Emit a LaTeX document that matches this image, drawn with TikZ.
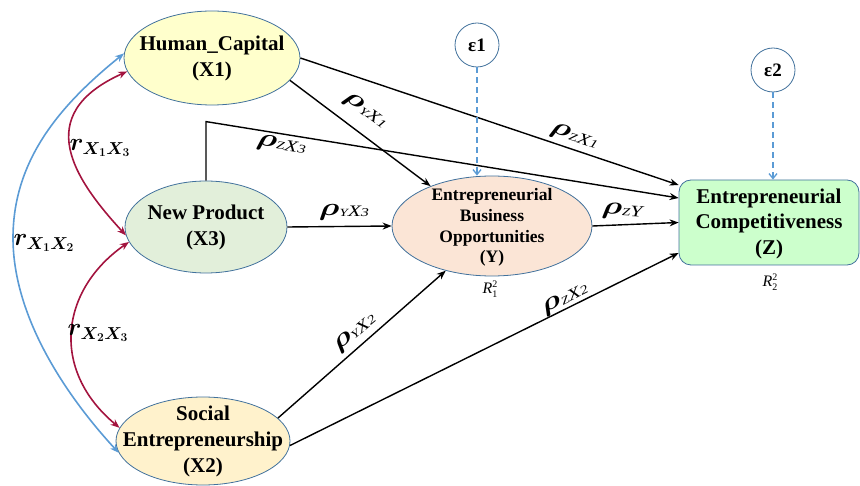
\documentclass[tikz,border=0pt]{standalone}
\usepackage{amsmath,amssymb}
\usepackage{graphicx}
\usepackage{fontspec}
\setmainfont{Liberation Serif}
\usetikzlibrary{shapes.geometric,arrows.meta}

\definecolor{nodeline}{HTML}{41719C}
\definecolor{hcfill}{HTML}{FFFFCC}
\definecolor{npfill}{HTML}{E2EFDA}
\definecolor{sefill}{HTML}{FFF2CC}
\definecolor{ebofill}{HTML}{FBE5D6}
\definecolor{ecfill}{HTML}{CCFFCC}
\definecolor{corrblue}{HTML}{5B9BD5}
\definecolor{corrred}{HTML}{A3143F}

% centred multi-line label that does not enlarge its shape
\newcommand{\ctext}[1]{\makebox[0pt]{\smash{\raisebox{-0.25em}{\begin{tabular}{@{}c@{}}#1\end{tabular}}}}}
% path coefficient label: bold rho with italic subscript letters
\newcommand{\rhosub}[2]{\scalebox{1.35}[1]{\fontsize{24}{24}\selectfont$\boldsymbol{\rho}$\raisebox{-1.5pt}{\itshape\fontsize{11}{11}\selectfont #1\fontsize{16}{16}\selectfont #2}}}
\newcommand{\rholab}[2]{\rhosub{#1}{X\fontsize{12}{12}\selectfont #2}}
% correlation label
\newcommand{\corrlab}[2]{{\fontsize{24}{24}\selectfont\boldmath$r_{X_{#1}X_{#2}}$}}
% R-squared label, set in text italics
\newcommand{\rsqlab}[1]{\textit{R}\makebox[0pt][l]{\raisebox{6pt}{\fontsize{10}{10}\selectfont 2}}\raisebox{-3.5pt}{\fontsize{10}{10}\selectfont #1}}

\begin{document}
\begin{tikzpicture}[x=1pt,y=-1pt,
  construct/.style={ellipse, draw=nodeline, line width=0.8pt, inner sep=0pt,
    font=\bfseries\fontsize{21}{26}\selectfont},
  errterm/.style={circle, draw=nodeline, line width=0.8pt, fill=white,
    minimum size=44pt, inner sep=0pt, font=\bfseries\fontsize{19}{19}\selectfont},
  effect/.style={line width=1.4pt, -{Stealth[length=9pt,width=7pt]}},
  corr/.style={line width=1.6pt,
    {Stealth[length=9pt,width=7pt]}-{Stealth[length=9pt,width=7pt]}},
  errarrow/.style={draw=corrblue, line width=1.3pt, dash pattern=on 6pt off 4pt,
    -{Straight Barb[length=5pt,width=8pt]}},
  coef/.style={inner sep=0pt},
  rsq/.style={inner sep=0pt, font=\fontsize{16}{16}\selectfont}
]
\useasboundingbox (0,0) rectangle (860,486);

% constructs
\node[construct, fill=hcfill, minimum width=176pt, minimum height=94pt] (hc) at (212,58) {\ctext{Human\_Capital\\(X1)}};
\node[construct, fill=npfill, minimum width=162pt, minimum height=92pt] (np) at (206,227) {\ctext{New Product\\(X3)}};
\node[construct, fill=sefill, minimum width=174pt, minimum height=88pt] (se) at (203,441) {\ctext{Social\\Entrepreneurship\\(X2)}};
\node[construct, fill=ebofill, minimum width=200pt, minimum height=100pt,
      font=\bfseries\fontsize{17.5}{20.8}\selectfont] (ebo) at (492,226)
      {\raisebox{-3pt}{\ctext{Entrepreneurial\\Business\\Opportunities\\(Y)}}};
\node[draw=nodeline, line width=0.8pt, fill=ecfill, rounded corners=12pt,
      minimum width=180pt, minimum height=85pt, inner sep=0pt,
      font=\bfseries\fontsize{21}{25.5}\selectfont] (ec) at (769,222.5)
      {\raisebox{-2pt}{\ctext{Entrepreneurial\\Competitiveness\\(Z)}}};

% error terms
\node[errterm] (e1) at (477,45) {ε1};
\node[errterm] (e2) at (773,70) {ε2};

% R-squared labels
\node[rsq] (r1) at (490,289) {\rsqlab{1}};
\node[rsq] (r2) at (770,282) {\rsqlab{2}};

% structural paths
\draw[effect] (hc.east) -- ([yshift=37.5pt]ec.west);
\draw[effect] (hc.-16) -- (ebo.147);
\draw[effect] (np.north) -- ++(0,-59) -- ([yshift=24.5pt]ec.west);
\draw[effect] (np.east) -- (ebo.west);
\draw[effect] (ebo.east) -- (ec.west);
\draw[effect] (se.17) -- (ebo.224);
\draw[effect] (se.-3) -- ([yshift=-30.5pt]ec.west);

% error arrows
\draw[errarrow] (e1.south) -- (e1 |- ebo.north);
\draw[errarrow] (e2.south) -- (e2 |- ec.north);

% correlations among exogenous constructs
\draw[corr, draw=corrblue] (hc.177) .. controls (60,105) and (13,160) .. (13,238)
  .. controls (13,320) and (70,400) .. (se.188);
\draw[corr, draw=corrred] (hc.189) .. controls (30,115) and (75,180) .. (np.186);
\draw[corr, draw=corrred] (np.191) .. controls (60,290) and (50,370) .. (se.171);

% coefficient labels
\node[coef] (lyx1) at (365,111) [rotate=-36] {\rholab{Y}{1}};
\node[coef] (lzx1) at (574,137) [rotate=-19] {\rholab{Z}{1}};
\node[coef] (lzx3) at (281,145) [rotate=-9] {\rholab{Z}{3}};
\node[coef] (lyx3) at (344,212) {\rholab{Y}{3}};
\node[coef] (lzy) at (622,211) [rotate=-3] {\rhosub{Z}{Y}};
\node[coef] (lyx2) at (355,333) [rotate=40] {\rholab{Y}{2}};
\node[coef] (lzx2) at (565,299) [rotate=27] {\rholab{Z}{2}};

\node[coef] (c13) at (100,148) {\corrlab{1}{3}};
\node[coef] (c12) at (44,243) {\corrlab{1}{2}};
\node[coef] (c23) at (98,333) {\corrlab{2}{3}};
\end{tikzpicture}
\end{document}
